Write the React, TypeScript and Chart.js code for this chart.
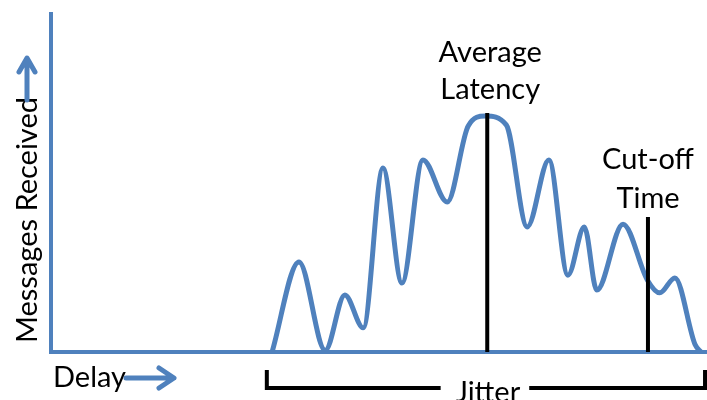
import React, { useEffect, useRef } from "react";
import { Chart, registerables } from "chart.js";

Chart.register(...registerables);

// Delay (arbitrary units, 0-100) and messages received (arbitrary units, 0-100)
const delay = [33.7, 37.8, 41.8, 44.8, 47.6, 50.6, 53.5, 56.7, 60.4, 63.6, 66.2, 69.4, 72.6, 75.9, 78.8, 81.3, 83.2, 87.2, 90.9, 92.8, 95.1, 98.2, 99.1];
const received = [0, 26.5, 0.5, 16.8, 7.1, 54.1, 20.3, 56.5, 44.1, 66.5, 69.4, 66.8, 36.8, 56.5, 22.6, 36.8, 18.2, 37.6, 21.2, 17.4, 21.8, 2.1, 0];

const averageLatency = 66.5;
const averageLatencyHeight = 70.3;
const cutOffTime = 91.0;
const cutOffHeight = 39.7;
const jitterRange = [32.9, 99.7];

const labels = {
  avg: ["Average", "Latency"],
  cut: ["Cut-off", "Time"],
  yTitle: "Messages Received",
  xTitle: "Delay",
  jitter: "Jitter",
};

const BLUE = "#4F81BD";
const FONT = "29px Lato, 'Open Sans', sans-serif";

const annotationPlugin = {
  id: "annotations",
  afterDraw(chart: any) {
    const ctx = chart.ctx;
    const xs = chart.scales.x;
    const ys = chart.scales.y;
    ctx.save();
    ctx.fillStyle = "#000";
    ctx.font = FONT;
    ctx.textBaseline = "alphabetic";
    ctx.textAlign = "center";
    const ax = xs.getPixelForValue(averageLatency) + 3;
    ctx.fillText(labels.avg[0], ax, 62);
    ctx.fillText(labels.avg[1], ax, 99);
    const cx = xs.getPixelForValue(cutOffTime);
    ctx.fillText(labels.cut[0], cx, 169);
    ctx.fillText(labels.cut[1], cx, 208);

    // Delay label + arrow
    ctx.textAlign = "left";
    ctx.fillText(labels.xTitle, 53, 387);
    ctx.strokeStyle = BLUE;
    ctx.lineWidth = 5;
    ctx.lineCap = "round";
    ctx.lineJoin = "round";
    ctx.beginPath();
    ctx.moveTo(126, 378);
    ctx.lineTo(173, 378);
    ctx.moveTo(159, 368);
    ctx.lineTo(174, 378);
    ctx.lineTo(159, 388);
    ctx.stroke();

    // y title rotated + arrow
    ctx.save();
    ctx.translate(37, 220);
    ctx.rotate(-Math.PI / 2);
    ctx.textAlign = "center";
    ctx.fillText(labels.yTitle, 0, 0);
    ctx.restore();
    ctx.beginPath();
    ctx.moveTo(27, 100);
    ctx.lineTo(27, 59);
    ctx.moveTo(19, 72);
    ctx.lineTo(27, 58);
    ctx.lineTo(35, 72);
    ctx.stroke();

    // Jitter bracket
    const jx0 = xs.getPixelForValue(jitterRange[0]);
    const jx1 = xs.getPixelForValue(jitterRange[1]);
    const jmid = (jx0 + jx1) / 2;
    ctx.textAlign = "center";
    ctx.fillText(labels.jitter, jmid + 2, 402);
    const tw = ctx.measureText(labels.jitter).width;
    const by = ys.getPixelForValue(0) + 36;
    ctx.strokeStyle = "#000";
    ctx.lineWidth = 4;
    ctx.lineCap = "butt";
    ctx.lineJoin = "miter";
    ctx.beginPath();
    ctx.moveTo(jx0, by - 18);
    ctx.lineTo(jx0, by);
    ctx.lineTo(jmid - tw / 2 - 13, by);
    ctx.moveTo(jmid + tw / 2 + 11, by);
    ctx.lineTo(jx1, by);
    ctx.lineTo(jx1, by - 18);
    ctx.stroke();
    ctx.restore();
  },
};

export default function App() {
  const ref = useRef<HTMLCanvasElement | null>(null);
  useEffect(() => {
    document.body.style.margin = "0";
    const canvas = ref.current!;
    const curve = delay.map((d, i) => ({ x: d, y: received[i] }));
    const chart = new Chart(canvas, {
      type: "line",
      data: {
        datasets: [
          {
            data: [{ x: averageLatency, y: 0 }, { x: averageLatency, y: averageLatencyHeight }],
            borderColor: "#000",
            borderWidth: 4,
            pointRadius: 0,
            clip: false as any,
            order: 1,
          },
          {
            data: [{ x: cutOffTime, y: 0 }, { x: cutOffTime, y: cutOffHeight }],
            borderColor: "#000",
            borderWidth: 4,
            pointRadius: 0,
            clip: false as any,
            order: 1,
          },
          {
            data: curve,
            borderColor: BLUE,
            borderWidth: 5,
            pointRadius: 0,
            cubicInterpolationMode: "monotone",
            clip: false as any,
            order: 3,
          },
          {
            data: [{ x: 0, y: 100 }, { x: 0, y: 0 }, { x: 100, y: 0 }],
            borderColor: BLUE,
            borderWidth: 4,
            pointRadius: 0,
            borderJoinStyle: "miter",
            clip: false as any,
            order: 2,
          },
        ],
      },
      options: {
        animation: false,
        responsive: false,
        layout: { padding: { left: 51, top: 12, right: 0, bottom: 48 } },
        plugins: { legend: { display: false }, tooltip: { enabled: false } },
        scales: {
          x: { type: "linear", min: 0, max: 100, display: false },
          y: { type: "linear", min: 0, max: 100, display: false },
        },
      },
      plugins: [annotationPlugin],
    });
    return () => chart.destroy();
  }, []);
  return <canvas ref={ref} width={707} height={400} style={{ display: "block" }} />;
}
